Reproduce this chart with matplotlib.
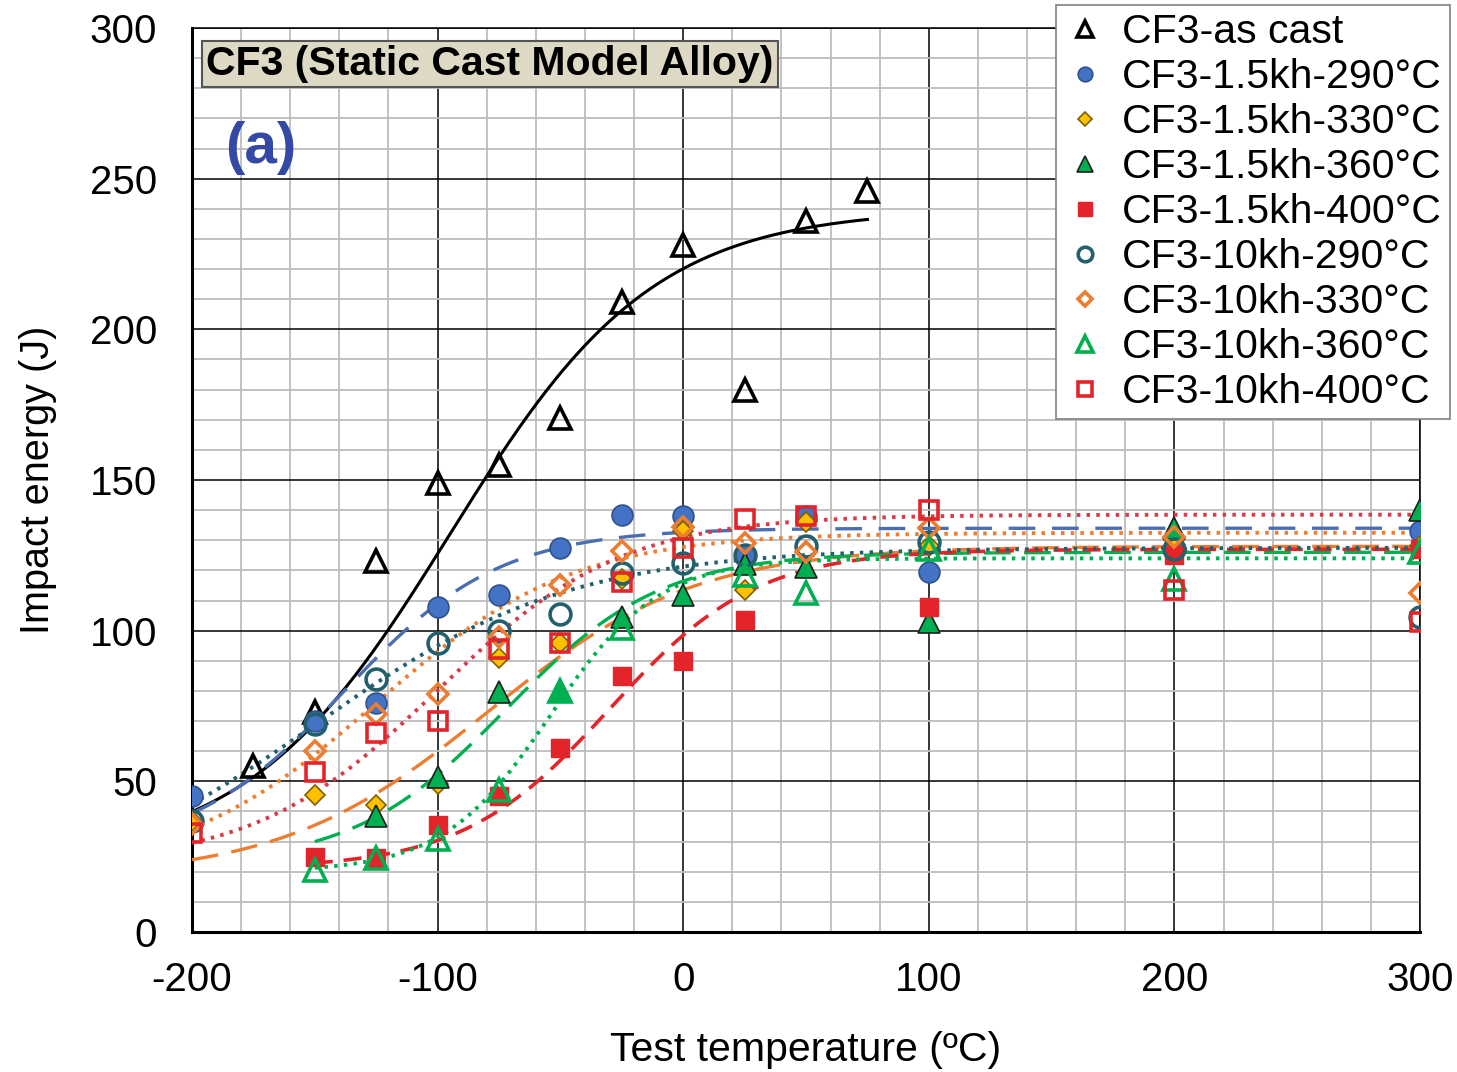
import numpy as np
import matplotlib
matplotlib.use("Agg")
import matplotlib.pyplot as plt
from matplotlib.lines import Line2D

# ---------- DATA --------------
labels = ["CF3-as cast", "CF3-1.5kh-290°C", "CF3-1.5kh-330°C", "CF3-1.5kh-360°C",
          "CF3-1.5kh-400°C", "CF3-10kh-290°C", "CF3-10kh-330°C", "CF3-10kh-360°C",
          "CF3-10kh-400°C"]

ac_T = [-175, -150, -125, -100, -75, -50, -25, 0, 25, 50, 75]
ac_E = [55, 73, 123, 149, 155, 170.5, 209, 228, 180, 236, 246]

k15_290_T = [-200, -150, -125, -100, -75, -50, -25, 0, 25, 50, 100, 200, 300]
k15_290_E = [45, 70, 76, 108, 112, 127.5, 138.5, 138, 125, 138, 119.5, 127, 133]

k15_330_T = [-200, -150, -125, -100, -75, -50, -25, 0, 25, 50, 100, 200, 300]
k15_330_E = [37, 45.5, 42, 49, 91, 96, 117, 133, 113.5, 136, 128, 130, 128]

k15_360_T = [-125, -100, -75, -50, -25, 0, 25, 50, 100, 200, 300]
k15_360_E = [38.5, 51.5, 79.5, 80, 104.5, 112, 122, 121, 103, 134, 140]

k15_400_T = [-150, -125, -100, -75, -50, -25, 0, 25, 100, 200, 300]
k15_400_E = [25, 24.5, 35.5, 45, 61, 85, 90, 103.5, 108, 125, 127]

k10_290_T = [-200, -150, -125, -100, -75, -50, -25, 0, 25, 50, 100, 200, 300]
k10_290_E = [37, 69, 84, 96, 100, 105.5, 119, 122.5, 125, 128, 129.5, 127, 104.5]

k10_330_T = [-200, -150, -125, -100, -75, -50, -25, 0, 25, 50, 100, 200, 300]
k10_330_E = [36, 60, 72.5, 79, 98, 115, 126.5, 134.5, 129, 126, 134, 131, 112.5]

k10_360_T = [-150, -125, -100, -75, -50, -25, 25, 50, 100, 200, 300]
k10_360_E = [20.5, 24.5, 31, 47, 80, 101, 118.5, 112.5, 127, 117, 126]

k10_400_T = [-200, -150, -125, -100, -75, -50, -25, 0, 25, 50, 100, 200, 300]
k10_400_E = [33, 53, 66, 70, 94, 96, 116, 127.5, 137, 138, 140, 113.5, 103]

# tanh trend fits: lower shelf, upper shelf, T0, C, T start, T end
fit_ac = [24, 240, -95, 83, -200, 75]
fit_k15_290 = [26, 134, -138, 63.5, -200, 300]
fit_k15_330 = [18, 128, -79.6, 84.4, -200, 300]
fit_k15_360 = [22, 126, -72, 62.8, -150, 300]
fit_k15_400 = [21, 127, -30, 60, -150, 300]
fit_k10_290 = [10, 127.5, -150, 104, -200, 300]
fit_k10_330 = [19.5, 132.5, -125, 80, -200, 300]
fit_k10_360 = [20, 124, -54, 44, -150, 300]
fit_k10_400 = [22, 138.5, -100, 75, -200, 300]
# ------------------------------


# ---------- CONFIG ------------
plt.rcParams['font.family'] = ['Liberation Sans', 'DejaVu Sans']
plt.rcParams['axes.unicode_minus'] = False
c_blue, c_gold, c_green, c_red = "#4472C4", "#FFC000", "#00B050", "#E3242B"
c_teal, c_orange = "#23606E", "#ED7D31"
# ------------------------------


def tanh_fit(p):
    lo, up, t0, c, ts, te = p
    t = np.linspace(ts, te, 300)
    return t, (lo + up) / 2 + (up - lo) / 2 * np.tanh((t - t0) / c)


fig = plt.figure(figsize=(14.57, 10.72), dpi=100)
ax = fig.add_axes([192 / 1457, 140 / 1072, 1228 / 1457, 904 / 1072])

# trend lines
line_specs = [
    (fit_ac, "black", "-", 2.2),
    (fit_k15_290, "#4A6EB0", (0, (8, 5)), 2.4),
    (fit_k15_330, c_orange, (0, (8, 4)), 2.4),
    (fit_k15_360, c_green, (0, (8, 4)), 2.4),
    (fit_k15_400, c_red, (0, (5, 3)), 2.6),
    (fit_k10_290, c_teal, (0, (0.9, 1.6)), 2.8),
    (fit_k10_330, c_orange, (0, (0.9, 1.6)), 2.8),
    (fit_k10_360, c_green, (0, (0.9, 1.6)), 2.8),
    (fit_k10_400, "#D93A4A", (0, (0.9, 1.6)), 2.8),
]
for p, col, ls, lw in line_specs:
    t, e = tanh_fit(p)
    ax.plot(t, e, color=col, linestyle=ls, lw=lw, zorder=3)

# markers
series = [
    (ac_T, ac_E, dict(marker="^", ms=16, mfc="none", mec="black", mew=2.6)),
    (k15_290_T, k15_290_E, dict(marker="o", ms=15, mfc=c_blue, mec="#2F528F", mew=1.2)),
    (k15_330_T, k15_330_E, dict(marker="D", ms=10.5, mfc=c_gold, mec="#7F6000", mew=1.2)),
    (k15_360_T, k15_360_E, dict(marker="^", ms=16, mfc=c_green, mec="#1E1E1E", mew=1.2)),
    (k15_400_T, k15_400_E, dict(marker="s", ms=13.5, mfc=c_red, mec=c_red, mew=1.0)),
    (k10_290_T, k10_290_E, dict(marker="o", ms=15, mfc="none", mec=c_teal, mew=2.6)),
    (k10_330_T, k10_330_E, dict(marker="D", ms=10.5, mfc="none", mec=c_orange, mew=2.6)),
    (k10_360_T, k10_360_E, dict(marker="^", ms=16, mfc="none", mec=c_green, mew=2.6)),
    (k10_400_T, k10_400_E, dict(marker="s", ms=13.5, mfc="none", mec=c_red, mew=2.6)),
]
handles = []
for T, E, style in series:
    ax.plot(T, E, linestyle="none", zorder=4, **style)
    handles.append(Line2D([], [], linestyle="none", **style))

ax.set_xlim(-200, 300)
ax.set_ylim(0, 300)
ax.set_xticks(np.arange(-200, 301, 100))
ax.set_xticks(np.arange(-200, 301, 20), minor=True)
ax.set_yticks(np.arange(0, 301, 50))
ax.set_yticks(np.arange(0, 301, 10), minor=True)
ax.grid(which="minor", color="#BDBDBD", lw=1.3)
ax.grid(which="major", color="black", lw=1.1)
ax.set_axisbelow(True)
ax.tick_params(which="both", length=0)
ax.tick_params(axis="x", labelsize=29, pad=21)
ax.tick_params(axis="y", labelsize=29, pad=25)
for s in ax.spines.values():
    s.set_color("black")
    s.set_linewidth(1.1)
ax.spines["left"].set_linewidth(2.2)
ax.spines["bottom"].set_linewidth(2.2)

ax.set_xlabel("Test temperature (ºC)", fontsize=29.5)
ax.set_ylabel("Impact energy (J)", fontsize=28.5)
ax.xaxis.set_label_coords(0.5, -0.110)
ax.yaxis.set_label_coords(-0.110, 0.5)

ax.text(0.2427, 0.960, "CF3 (Static Cast Model Alloy)", transform=ax.transAxes,
        fontsize=29.5, fontweight="bold", ha="center", va="center", zorder=6,
        bbox=dict(boxstyle="square,pad=0.1", fc="#DDD9C4", ec="#555555", lw=1.5))
ax.text(0.0562, 0.867, "(a)", transform=ax.transAxes, fontsize=42,
        fontweight="bold", color="#3449A6", ha="center", va="center", zorder=6)

leg = ax.legend(handles, labels, loc="upper right",
                bbox_to_anchor=(1450 / 1457, 1 - 5 / 1072), bbox_transform=fig.transFigure,
                fontsize=29.5, frameon=True, fancybox=False, edgecolor="#808080",
                framealpha=1, borderpad=0.2, labelspacing=0.17, handletextpad=0.4,
                handlelength=1.0, markerscale=0.7, borderaxespad=0)
leg.get_frame().set_linewidth(1.2)
leg.set_zorder(10)

fig.savefig("out.png", dpi=100)
